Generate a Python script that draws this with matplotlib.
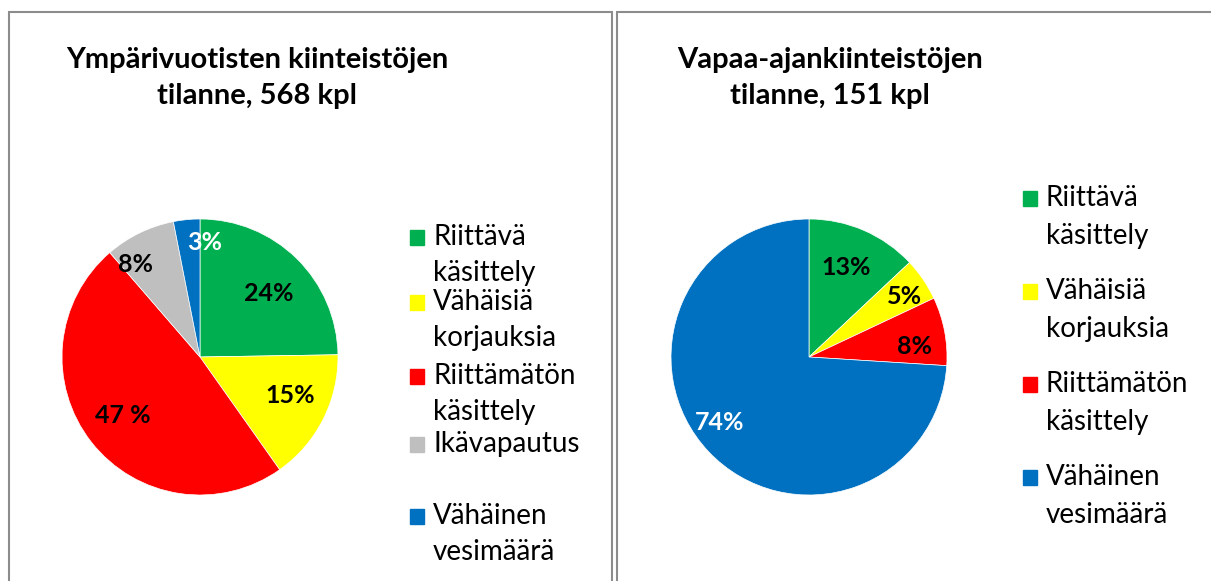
import numpy as np
import matplotlib
matplotlib.use("Agg")
import matplotlib.pyplot as plt
from matplotlib.patches import Rectangle

plt.rcParams['font.family'] = ['Lato', 'DejaVu Sans']

# data
left_title = "Ympärivuotisten kiinteistöjen\ntilanne, 568 kpl"
left_cats = ["Riittävä\nkäsittely", "Vähäisiä\nkorjauksia", "Riittämätön\nkäsittely",
             "Ikävapautus", "Vähäinen\nvesimäärä"]
left_vals = [24, 15, 47, 8, 3]
left_labels = ["24%", "15%", "47 %", "8%", "3%"]
left_colors = ["#00B050", "#FFFF00", "#FF0000", "#BFBFBF", "#0070C0"]

right_title = "Vapaa-ajankiinteistöjen\ntilanne, 151 kpl"
right_cats = ["Riittävä\nkäsittely", "Vähäisiä\nkorjauksia", "Riittämätön\nkäsittely",
              "Vähäinen\nvesimäärä"]
right_vals = [13, 5, 8, 74]
right_labels = ["13%", "5%", "8%", "74%"]
right_colors = ["#00B050", "#FFFF00", "#FF0000", "#0070C0"]

W, H = 1211, 581
fig = plt.figure(figsize=(W / 100, H / 100), dpi=100)
fig.patch.set_facecolor("white")

# panel borders (pixel coords -> figure coords)
def px(x, y):
    return x / W, 1 - y / H

for x0, x1 in [(9, 612), (617, 1215)]:
    fig.patches.append(Rectangle(px(x0, 595), (x1 - x0) / W, (595 - 12) / H,
                                 transform=fig.transFigure, fill=False,
                                 edgecolor="#8c8c8c", linewidth=1.5))


def draw_pie(cx, cy, r, vals, colors, labels, dists, nudges, white_idx):
    ax = fig.add_axes([(cx - r) / W, (H - cy - r) / H, 2 * r / W, 2 * r / H])
    wedges, _ = ax.pie(vals, colors=colors, startangle=90, counterclock=False,
                       wedgeprops=dict(linewidth=0.5, edgecolor="white"))
    for i, (w, lab) in enumerate(zip(wedges, labels)):
        # label sits near the slice middle, nudged a little like excel does
        mid = np.deg2rad((w.theta1 + w.theta2) / 2 + nudges[i])
        ax.text(dists[i] * np.cos(mid), dists[i] * np.sin(mid), lab,
                ha="center", va="center", fontsize=18, fontweight="bold",
                color="white" if i in white_idx else "black")
    ax.set_xlim(-1, 1)
    ax.set_ylim(-1, 1)
    ax.axis("off")


def draw_legend(x_sq, rows, colors, cats, line_gap):
    for y, c, cat in zip(rows, colors, cats):
        fig.patches.append(Rectangle(px(x_sq, y + 8), 14 / W, 15 / H,
                                     transform=fig.transFigure, color=c))
        for j, line in enumerate(cat.split("\n")):
            fig.text(*px(x_sq + 23, y + j * line_gap), line, fontsize=20,
                     ha="left", va="center")


draw_pie(200, 357, 138, left_vals, left_colors, left_labels,
         [0.68, 0.71, 0.70, 0.82, 0.83], [-3, 4, -1, 9, -8], [4])
draw_pie(809, 357, 138, right_vals, right_colors, right_labels,
         [0.70, 0.82, 0.77, 0.80], [1, -2, -5, -7], [3])

fig.text(*px(257, 78), left_title, ha="center", va="center", fontsize=21,
         fontweight="bold", linespacing=1.5)
fig.text(*px(830, 78), right_title, ha="center", va="center", fontsize=21,
         fontweight="bold", linespacing=1.5)

draw_legend(410, [237, 302, 376, 444, 516], left_colors, left_cats, 36)
draw_legend(1023, [198, 291, 384, 477], right_colors, right_cats, 38)

fig.savefig("out.png", dpi=100, facecolor="white")
